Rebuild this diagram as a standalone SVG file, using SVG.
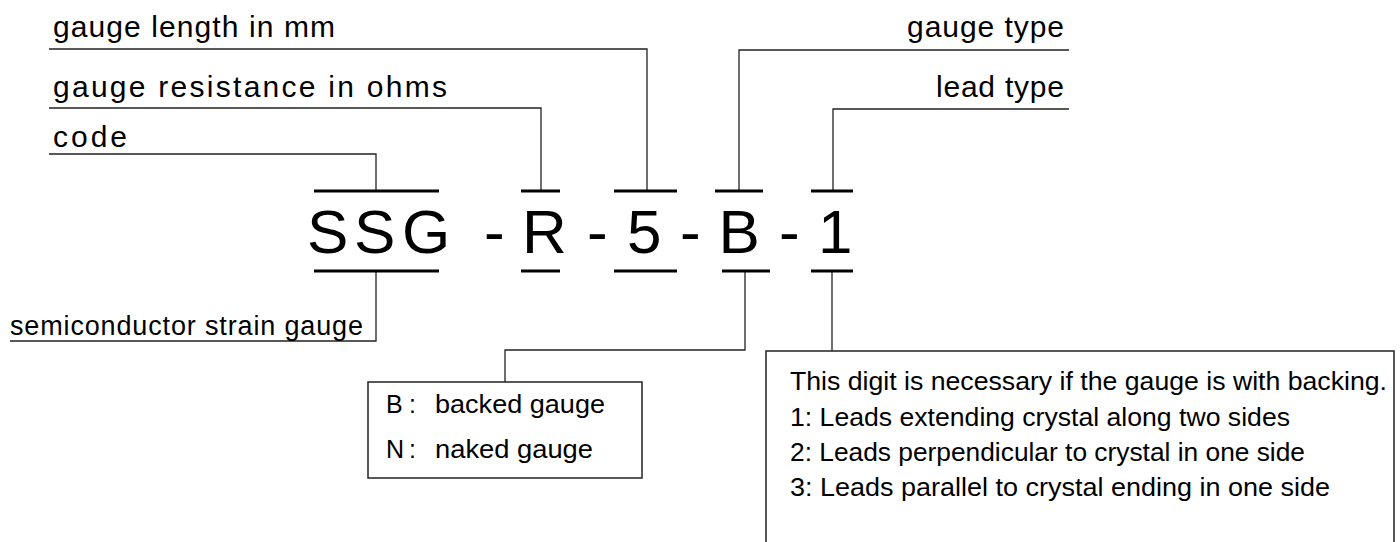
<svg xmlns="http://www.w3.org/2000/svg" width="1400" height="542" viewBox="0 0 1400 542">
<style>
  .lbl { font-family: "Liberation Sans", Arial, sans-serif; font-size: 30px; fill: #000; }
  .big { font-family: "Liberation Sans", Arial, sans-serif; font-size: 62px; fill: #000; }
  .box { font-family: "Liberation Sans", Arial, sans-serif; font-size: 25px; fill: #000; }
  .note { font-family: "Liberation Sans", Arial, sans-serif; font-size: 25px; fill: #000; }
  .ln { fill: none; stroke: #222; stroke-width: 1.3; }
  .bar { fill: none; stroke: #000; stroke-width: 3; }
  .frame { fill: #fff; stroke: #222; stroke-width: 1.5; }
</style>
<rect width="1400" height="542" fill="#fff"/>

<g id="connectors">
  <polyline class="ln" points="49,49 647,49 647,191"/>
  <polyline class="ln" points="49,108 541,108 541,191"/>
  <polyline class="ln" points="49,154 376,154 376,191"/>
  <polyline class="ln" points="1069,50 739,50 739,191"/>
  <polyline class="ln" points="1069,109 833,109 833,191"/>
  <polyline class="ln" points="376,271 376,341 10,341"/>
  <polyline class="ln" points="745,271 745,350 505,350 505,382"/>
  <polyline class="ln" points="832,271 832,351"/>
  <line class="bar" x1="314" y1="191" x2="439" y2="191"/>
  <line class="bar" x1="521" y1="191" x2="560" y2="191"/>
  <line class="bar" x1="614" y1="191" x2="677" y2="191"/>
  <line class="bar" x1="715" y1="191" x2="763" y2="191"/>
  <line class="bar" x1="811" y1="191" x2="853" y2="191"/>
  <line class="bar" x1="314" y1="271" x2="439" y2="271"/>
  <line class="bar" x1="521" y1="271" x2="560" y2="271"/>
  <line class="bar" x1="614" y1="271" x2="677" y2="271"/>
  <line class="bar" x1="722" y1="271" x2="770" y2="271"/>
  <line class="bar" x1="811" y1="271" x2="853" y2="271"/>
</g>

<g id="label-length">
  <text class="lbl" x="53" y="37" textLength="282">gauge length in mm</text>
</g>
<g id="label-resistance">
  <text class="lbl" x="53" y="97" textLength="394">gauge resistance in ohms</text>
</g>
<g id="label-code">
  <text class="lbl" x="53" y="147" textLength="74">code</text>
</g>
<g id="label-gauge-type">
  <text class="lbl" x="907" y="37" textLength="157">gauge type</text>
</g>
<g id="label-lead-type">
  <text class="lbl" x="936" y="97" textLength="128">lead type</text>
</g>

<g id="code-string">
  <text class="big" y="253"><tspan x="307 354 402">SSG</tspan> <tspan x="484">-</tspan> <tspan x="522">R</tspan> <tspan x="587">-</tspan> <tspan x="627">5</tspan> <tspan x="680">-</tspan> <tspan x="718.5">B</tspan> <tspan x="779">-</tspan> <tspan x="818">1</tspan></text>
</g>

<g id="label-semiconductor">
  <text class="lbl" style="font-size:27px" x="10" y="335" textLength="353">semiconductor strain gauge</text>
</g>

<g id="box-gauge-type">
  <rect class="frame" x="368" y="382" width="274" height="96"/>
  <text class="box" x="386" y="413">B<tspan x="409">:</tspan> <tspan x="435" textLength="170" lengthAdjust="spacingAndGlyphs">backed gauge</tspan></text>
  <text class="box" x="386" y="458">N<tspan x="409">:</tspan> <tspan x="435" textLength="158" lengthAdjust="spacingAndGlyphs">naked gauge</tspan></text>
</g>

<g id="box-lead-type">
  <rect class="frame" x="766" y="351" width="628" height="210"/>
  <text class="note" x="790" y="390" textLength="597" lengthAdjust="spacingAndGlyphs">This digit is necessary if the gauge is with backing.</text>
  <text class="note" x="790" y="426" textLength="500" lengthAdjust="spacingAndGlyphs">1: Leads extending crystal along two sides</text>
  <text class="note" x="790" y="461" textLength="515" lengthAdjust="spacingAndGlyphs">2: Leads perpendicular to crystal in one side</text>
  <text class="note" x="790" y="496" textLength="540" lengthAdjust="spacingAndGlyphs">3: Leads parallel to crystal ending in one side</text>
</g>
</svg>
